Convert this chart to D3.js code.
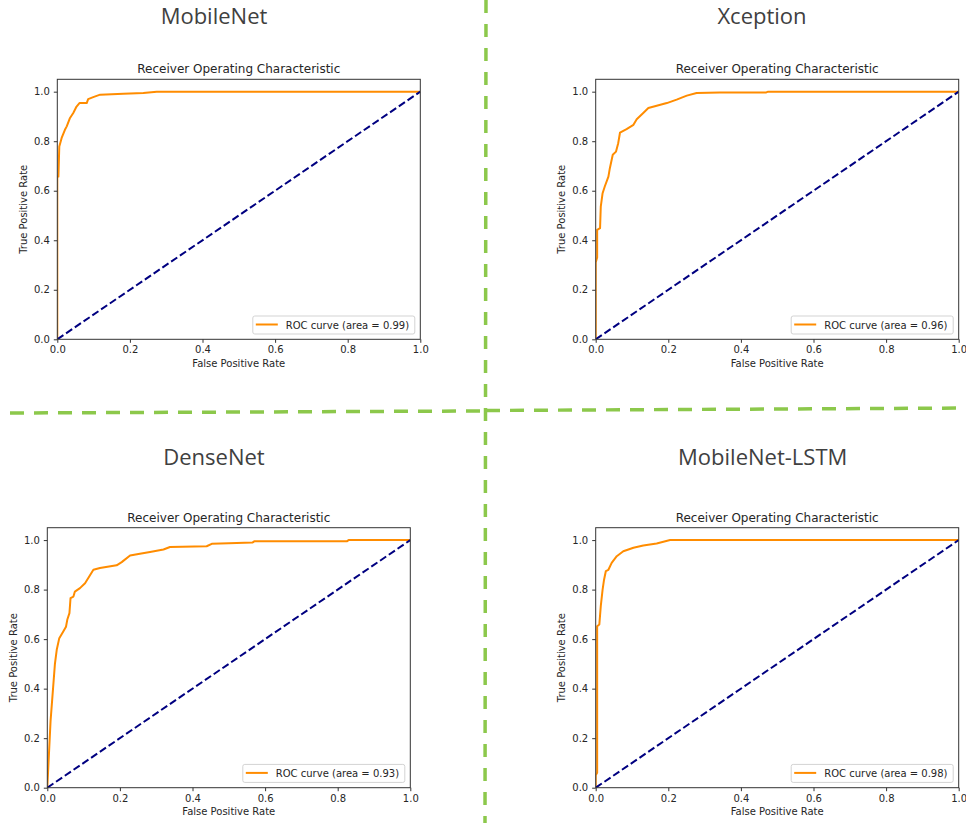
<!DOCTYPE html>
<html>
<head>
<meta charset="utf-8">
<script src="https://cdn.jsdelivr.net/npm/d3@7"></script>
<style>
  body { margin: 0; background: #fff; }
</style>
</head>
<body>
<div id="chart"></div>
<script>
// Models and the AUC shown in each legend
var models = ['MobileNet', 'Xception', 'DenseNet', 'MobileNet-LSTM'];
var aucs = [0.99, 0.96, 0.93, 0.98];
var tickValues = [0, 0.2, 0.4, 0.6, 0.8, 1.0];

// ROC points
var mobileNetFpr = [0, 0, 0.003, 0.0055, 0.012, 0.021, 0.026, 0.035, 0.044, 0.053, 0.061, 0.081, 0.085, 0.099, 0.118, 0.182, 0.237, 0.274, 1];
var mobileNetTpr = [0, 0.657, 0.657, 0.779, 0.813, 0.846, 0.86, 0.894, 0.914, 0.94, 0.954, 0.954, 0.97, 0.978, 0.988, 0.992, 0.995, 1, 1];

var xceptionFpr = [0, 0, 0.004, 0.004, 0.012, 0.014, 0.019, 0.025, 0.035, 0.039, 0.047, 0.056, 0.062, 0.067, 0.085, 0.104, 0.113, 0.131, 0.145, 0.168, 0.196, 0.223, 0.251, 0.278, 0.342, 0.47, 0.475, 1];
var xceptionTpr = [0, 0.31, 0.33, 0.442, 0.449, 0.536, 0.59, 0.617, 0.657, 0.691, 0.745, 0.758, 0.792, 0.835, 0.849, 0.866, 0.889, 0.914, 0.934, 0.943, 0.954, 0.968, 0.984, 0.995, 0.997, 0.997, 1, 1];

var denseNetFpr = [0, 0.009, 0.021, 0.026, 0.033, 0.044, 0.0515, 0.055, 0.061, 0.064, 0.072, 0.076, 0.09, 0.104, 0.127, 0.145, 0.191, 0.205, 0.228, 0.255, 0.283, 0.32, 0.338, 0.439, 0.453, 0.5, 0.565, 0.57, 0.825, 0.83, 1];
var denseNetTpr = [0, 0.27, 0.5, 0.557, 0.604, 0.631, 0.65, 0.678, 0.705, 0.766, 0.772, 0.792, 0.806, 0.826, 0.88, 0.887, 0.898, 0.911, 0.938, 0.945, 0.952, 0.962, 0.972, 0.975, 0.985, 0.987, 0.99, 0.995, 0.995, 1, 1];

var lstmFpr = [0, 0, 0.004, 0.004, 0.01, 0.014, 0.019, 0.023, 0.028, 0.035, 0.044, 0.058, 0.076, 0.104, 0.131, 0.168, 0.205, 1];
var lstmTpr = [0, 0.05, 0.06, 0.652, 0.659, 0.733, 0.8, 0.84, 0.875, 0.88, 0.908, 0.935, 0.955, 0.969, 0.978, 0.986, 1, 1];

var fprs = [mobileNetFpr, xceptionFpr, denseNetFpr, lstmFpr];
var tprs = [mobileNetTpr, xceptionTpr, denseNetTpr, lstmTpr];

// where each small chart sits on the page
var panels = [
  {left: 57.3, top: 79.3, titleX: 214, titleY: 24},
  {left: 595.7, top: 79.3, titleX: 762, titleY: 24},
  {left: 47.3, top: 527.7, titleX: 214, titleY: 465},
  {left: 595.7, top: 527.7, titleX: 762.7, titleY: 465}
];
var width = 363, height = 260;

var svg = d3.select('#chart')
  .append('svg')
  .attr('width', 966)
  .attr('height', 823)
  .style('display', 'block');

svg.append('rect')
  .attr('width', 966)
  .attr('height', 823)
  .attr('fill', '#fff');

// Green dashed dividers
var green = '#8cc84b';
svg.append('line')
  .attr('x1', 486).attr('y1', 0).attr('x2', 485).attr('y2', 823)
  .attr('stroke', green).attr('stroke-width', 3.5)
  .attr('stroke-dasharray', '13,11');
svg.append('line')
  .attr('x1', 10).attr('y1', 413).attr('x2', 482).attr('y2', 411)
  .attr('stroke', green).attr('stroke-width', 3.5)
  .attr('stroke-dasharray', '14,10');
svg.append('line')
  .attr('x1', 486).attr('y1', 410.5).attr('x2', 966).attr('y2', 408)
  .attr('stroke', green).attr('stroke-width', 3.5)
  .attr('stroke-dasharray', '14,10');

var x = d3.scaleLinear().domain([0, 1]).range([0, width]);
var y = d3.scaleLinear().domain([0, 1.05]).range([height, 0]);
var fmt = d3.format('.1f');

panels.forEach(function(p, i) {
  // Big model name
  svg.append('text')
    .attr('x', p.titleX)
    .attr('y', p.titleY)
    .attr('text-anchor', 'middle')
    .style('font-family', '"Open Sans", sans-serif')
    .style('font-size', '22px')
    .style('fill', '#404040')
    .text(models[i]);

  var g = svg.append('g')
    .attr('transform', 'translate(' + p.left + ',' + p.top + ')')
    .style('font-family', '"DejaVu Sans", sans-serif');

  g.append('clipPath')
    .attr('id', 'clip' + i)
    .append('rect')
    .attr('width', width)
    .attr('height', height);

  // axes
  var xAxis = g.append('g')
    .attr('transform', 'translate(0,' + height + ')')
    .call(d3.axisBottom(x).tickValues(tickValues).tickFormat(fmt).tickSize(3.5).tickPadding(3.5));
  var yAxis = g.append('g')
    .call(d3.axisLeft(y).tickValues(tickValues).tickFormat(fmt).tickSize(3.5).tickPadding(4));
  [xAxis, yAxis].forEach(function(a) {
    a.select('.domain').remove();
    a.selectAll('line').attr('stroke', '#333');
    a.selectAll('text')
      .style('font-family', '"DejaVu Sans", sans-serif')
      .style('font-size', '10px')
      .attr('fill', '#262626');
  });

  // chart title and axis labels
  g.append('text')
    .attr('x', width / 2)
    .attr('y', -6)
    .attr('text-anchor', 'middle')
    .style('font-size', '12px')
    .style('fill', '#262626')
    .text('Receiver Operating Characteristic');

  g.append('text')
    .attr('x', width / 2)
    .attr('y', height + 27.5)
    .attr('text-anchor', 'middle')
    .style('font-size', '10px')
    .style('fill', '#262626')
    .text('False Positive Rate');

  g.append('text')
    .attr('transform', 'rotate(-90)')
    .attr('x', -height / 2)
    .attr('y', -30.3)
    .attr('text-anchor', 'middle')
    .style('font-size', '10px')
    .style('fill', '#262626')
    .text('True Positive Rate');

  // curves
  var pts = fprs[i].map(function(f, j) { return [f, tprs[i][j]]; });
  var line = d3.line().x(d => x(d[0])).y(d => y(d[1]));

  g.append('path')
    .datum(pts)
    .attr('clip-path', 'url(#clip' + i + ')')
    .attr('d', line)
    .attr('fill', 'none')
    .attr('stroke', '#ff8c00')
    .attr('stroke-width', 2)
    .attr('stroke-linejoin', 'round');

  g.append('path')
    .datum([[0, 0], [1, 1]])
    .attr('clip-path', 'url(#clip' + i + ')')
    .attr('d', line)
    .attr('fill', 'none')
    .attr('stroke', '#000080')
    .attr('stroke-width', 2)
    .attr('stroke-dasharray', '7.4,3.2');

  // frame
  g.append('rect')
    .attr('width', width)
    .attr('height', height)
    .attr('fill', 'none')
    .attr('stroke', '#333')
    .attr('stroke-width', 1);

  // legend
  var lg = g.append('g')
    .attr('transform', 'translate(' + (width - 167.5) + ',' + (height - 23.3) + ')');
  lg.append('rect')
    .attr('width', 162)
    .attr('height', 18)
    .attr('rx', 2)
    .attr('fill', '#fff')
    .attr('fill-opacity', 0.8)
    .attr('stroke', '#d3d3d3');
  lg.append('line')
    .attr('x1', 3).attr('x2', 25)
    .attr('y1', 8.5).attr('y2', 8.5)
    .attr('stroke', '#ff8c00')
    .attr('stroke-width', 2);
  lg.append('text')
    .attr('x', 33)
    .attr('y', 12.5)
    .style('font-size', '10px')
    .style('fill', '#262626')
    .text('ROC curve (area = ' + aucs[i].toFixed(2) + ')');
});
</script>
</body>
</html>
